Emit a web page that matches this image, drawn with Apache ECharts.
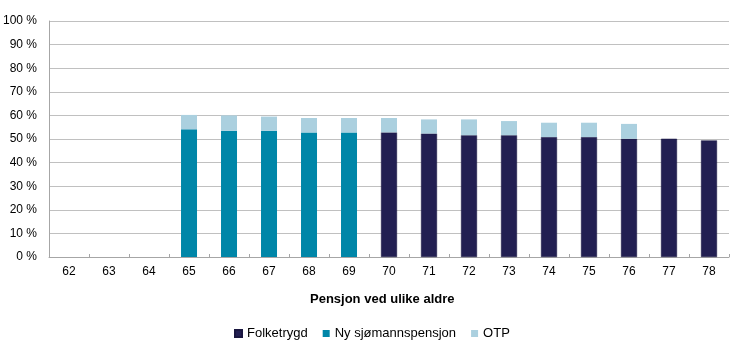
<!DOCTYPE html>
<html>
<head>
<meta charset="utf-8">
<script src="https://cdn.jsdelivr.net/npm/echarts@6/dist/echarts.min.js"></script>
<style>html,body{margin:0;padding:0;background:#fff}#c{width:730px;height:358px}</style>
</head>
<body>
<div id="c"></div>
<script>
const categories = ['62','63','64','65','66','67','68','69','70','71','72','73','74','75','76','77','78'];
const folketrygd = ['-','-','-','-','-','-','-','-',52.8,52.3,51.6,51.6,50.8,50.8,50.1,50.1,49.4];
const sjomann = ['-','-','-',54.1,53.5,53.5,52.8,52.8,'-','-','-','-','-','-','-','-','-'];
const otp = ['-','-','-',6.1,6.5,6.0,6.1,6.1,6.1,6.0,6.7,6.0,6.1,6.1,6.3,'-','-'];
const yTicks = [0,10,20,30,40,50,60,70,80,90,100];

const chart = echarts.init(document.getElementById('c'));
const font = 'Liberation Sans, Arial, sans-serif';
chart.setOption({
  animation: false,
  textStyle: {fontFamily: font},
  title: {
    text: 'Pensjon ved ulike aldre',
    left: 305, top: 288,
    textStyle: {fontSize: 13, fontWeight: 'bold', color: '#000', fontFamily: font}
  },
  legend: {
    left: 229, top: 322,
    itemWidth: 7, itemHeight: 7, itemGap: 15,
    icon: 'rect',
    textStyle: {fontSize: 13, color: '#000', fontFamily: font},
    data: ['Folketrygd','Ny sjømannspensjon','OTP']
  },
  grid: {left: 48, right: 1, top: 21, bottom: 101, containLabel: false},
  xAxis: {
    type: 'category',
    data: categories,
    axisLine: {lineStyle: {color: '#a6a6a6'}},
    axisTick: {show: true, inside: true, length: 3, lineStyle: {color: '#a6a6a6'}},
    axisLabel: {color: '#000', fontSize: 12, margin: 9, fontFamily: font}
  },
  yAxis: {
    type: 'value',
    min: yTicks[0], max: yTicks[yTicks.length-1], interval: 10,
    axisLine: {show: true, lineStyle: {color: '#a6a6a6'}},
    axisTick: {show: false},
    splitLine: {lineStyle: {color: '#c0c0c0'}},
    axisLabel: {color: '#000', fontSize: 12, margin: 12, formatter: '{value} %', fontFamily: font}
  },
  series: [
    {name: 'Folketrygd', type: 'bar', stack: 's', data: folketrygd, barWidth: 16,
     itemStyle: {color: '#221f52', borderColor: '#1a1740', borderWidth: 0.5}},
    {name: 'Ny sjømannspensjon', type: 'bar', stack: 's', data: sjomann, barWidth: 16,
     itemStyle: {color: '#0086a8'}},
    {name: 'OTP', type: 'bar', stack: 's', data: otp, barWidth: 16,
     itemStyle: {color: '#abd0df'}}
  ]
});
</script>
</body>
</html>
